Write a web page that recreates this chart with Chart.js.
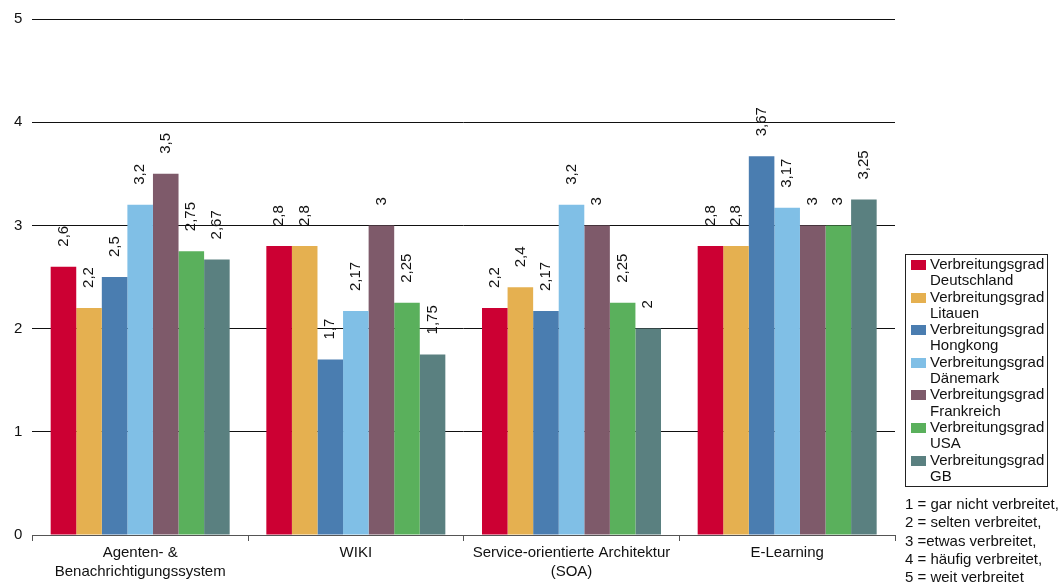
<!DOCTYPE html>
<html>
<head>
<meta charset="utf-8">
<script src="https://cdn.jsdelivr.net/npm/chart.js@4"></script>
<style>
  html, body { margin: 0; padding: 0; background: #fff; }
  #wrap { position: relative; width: 1061px; height: 585px; font-family: "Liberation Sans", Arial, sans-serif; color: #111; }
  #chart { position: absolute; left: 0; top: 0; }
  #legend {
    position: absolute; left: 905px; top: 254px; width: 143px;
    border: 1px solid #222; padding: 1px 0 2px 5px; box-sizing: border-box;
    font-size: 15px; line-height: 16.3px;
  }
  .lg-item { position: relative; padding-left: 19px; }
  .lg-box { position: absolute; left: 0; top: 4px; width: 15px; height: 10px; }
  #note { position: absolute; left: 905px; top: 495px; font-size: 15px; line-height: 18.3px; white-space: pre; }
</style>
</head>
<body>
<div id="wrap">
  <canvas id="chart" width="1061" height="585"></canvas>
  <div id="legend"></div>
  <div id="note"></div>
</div>
<script>
// Kategorien (x-Achse)
const kategorien = [
  ['Agenten- &', 'Benachrichtigungssystem'],
  'WIKI',
  ['Service-orientierte Architektur', '(SOA)'],
  'E-Learning'
]

// Verbreitungsgrad je Land
const laender     = ['Deutschland', 'Litauen', 'Hongkong', 'Dänemark', 'Frankreich', 'USA', 'GB']
const deutschland = [2.6, 2.8, 2.2, 2.8]
const litauen     = [2.2, 2.8, 2.4, 2.8]
const hongkong    = [2.5, 1.7, 2.17, 3.67]
const daenemark   = [3.2, 2.17, 3.2, 3.17]
const frankreich  = [3.5, 3, 3, 3]
const usa         = [2.75, 2.25, 2.25, 3]
const gb          = [2.67, 1.75, 2, 3.25]

const farben = ['#cc0033', '#e5b050', '#4a7db0', '#80bfe6', '#7e5a6a', '#5ab05c', '#5a8080']
const yTicks = [0, 1, 2, 3, 4, 5]

const skala = [
  '1 = gar nicht verbreitet,',
  '2 = selten verbreitet,',
  '3 =etwas verbreitet,',
  '4 = häufig verbreitet,',
  '5 = weit verbreitet'
]

const reihen = [deutschland, litauen, hongkong, daenemark, frankreich, usa, gb]
const FONT = '"Liberation Sans", Arial, sans-serif'

// Werte senkrecht über den Balken, mit Komma als Dezimaltrenner
const wertLabels = {
  id: 'wert-labels',
  afterDatasetsDraw(chart) {
    const { ctx } = chart
    ctx.save()
    ctx.font = '15px ' + FONT
    ctx.fillStyle = '#111'
    ctx.textAlign = 'left'
    ctx.textBaseline = 'middle'
    chart.data.datasets.forEach((ds, di) => {
      chart.getDatasetMeta(di).data.forEach((bar, i) => {
        ctx.save()
        ctx.translate(bar.x, bar.y - 20)
        ctx.rotate(-Math.PI / 2)
        ctx.fillText(String(ds.data[i]).replace('.', ','), 0, 0)
        ctx.restore()
      })
    })
    ctx.restore()
  }
}

new Chart(document.getElementById('chart'), {
  type: 'bar',
  plugins: [wertLabels],
  data: {
    labels: kategorien,
    datasets: reihen.map((d, i) => ({
      label: 'Verbreitungsgrad ' + laender[i],
      data: d,
      backgroundColor: farben[i],
      borderWidth: 0,
      categoryPercentage: 0.83,
      barPercentage: 1
    }))
  },
  options: {
    responsive: false,
    animation: false,
    layout: { padding: { top: 10, right: 166, left: 4, bottom: 1 } },
    plugins: { legend: { display: false }, tooltip: { enabled: false } },
    scales: {
      x: {
        grid: { offset: true, drawOnChartArea: false, color: '#555', tickLength: 6 },
        border: { color: '#555' },
        ticks: { color: '#111', font: { size: 15, family: FONT, lineHeight: 1.3 }, padding: 2, maxRotation: 0 }
      },
      y: {
        min: 0, max: 5,
        afterBuildTicks: axis => { axis.ticks = yTicks.map(v => ({ value: v })) },
        grid: { color: '#111', drawTicks: false },
        border: { display: false },
        ticks: { color: '#111', font: { size: 15, family: FONT }, padding: 10 }
      }
    }
  }
})

// Legende rechts neben dem Diagramm
document.getElementById('legend').innerHTML = laender.map((l, i) =>
  `<div class="lg-item"><span class="lg-box" style="background:${farben[i]}"></span>Verbreitungsgrad<br>${l}</div>`
).join('')

document.getElementById('note').textContent = skala.join('\n')
</script>
</body>
</html>
